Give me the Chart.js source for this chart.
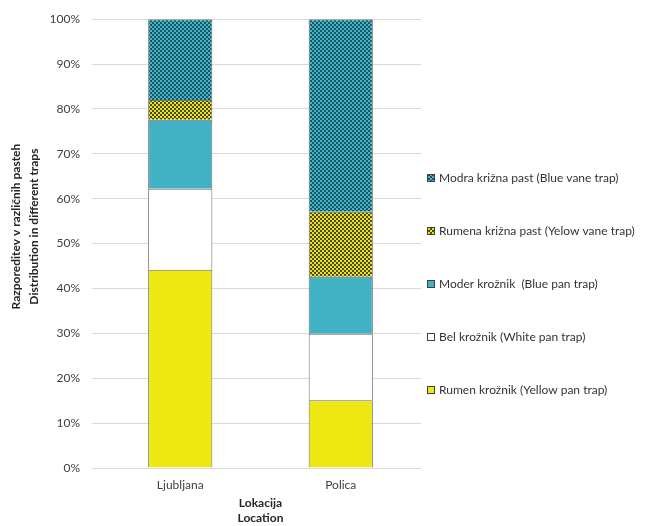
<!DOCTYPE html>
<html>
<head>
<meta charset="utf-8">
<script src="https://cdn.jsdelivr.net/npm/chart.js@4.4.0/dist/chart.umd.min.js"></script>
<style>
  html, body { margin: 0; padding: 0; background: #fff; }
  #wrap { width: 647px; height: 526px; }
</style>
</head>
<body>
<div id="wrap"><canvas id="chart"></canvas></div>
<script>
const locations = ['Ljubljana', 'Polica'];
const yellowPan = [44.2, 15.1];
const whitePan = [18.0, 14.8];
const bluePan = [15.4, 12.7];
const yellowVane = [4.4, 14.5];
const blueVane = [18.0, 42.9];
const yTitle = ['Razporeditev v različnih pasteh', 'Distribution in different traps'];
const xTitle = ['Lokacija', 'Location'];

// small checker fill like the Excel pattern
function checker(dark, light) {
    let c = document.createElement('canvas');
    c.width = 4;
    c.height = 4;
    let g = c.getContext('2d');
    g.fillStyle = dark;
    g.fillRect(0, 0, 4, 4);
    g.fillStyle = light;
    g.fillRect(0, 0, 2, 2);
    g.fillRect(2, 2, 2, 2);
    return g.createPattern(c, 'repeat');
}

// legend on the right (reversed, widely spaced) + y axis title sitting a bit above centre
const trapLegend = {
    id: 'trapLegend',
    afterDraw(chart) {
        let ctx = chart.ctx;
        let area = chart.chartArea;
        let sets = chart.data.datasets;
        ctx.save();
        ctx.font = '12px Lato';
        ctx.textBaseline = 'middle';
        for (let i = sets.length - 1; i >= 0; i--) {
            let row = sets.length - 1 - i;
            let y = 178 + row * 53;
            let x = area.right + 6;
            ctx.fillStyle = sets[i].backgroundColor;
            ctx.fillRect(x, y - 4, 8, 8);
            ctx.strokeStyle = '#404040';
            ctx.lineWidth = 1;
            ctx.strokeRect(x + 0.5, y - 3.5, 7, 7);
            ctx.fillStyle = '#333333';
            ctx.fillText(sets[i].label, x + 12, y);
        }

        let midY = (area.top + area.bottom) / 2 - 17;
        ctx.font = 'bold 12px Lato';
        ctx.fillStyle = '#262626';
        ctx.textAlign = 'center';
        ctx.translate(16, midY);
        ctx.rotate(-Math.PI / 2);
        ctx.fillText(yTitle[0], 0, 0);
        ctx.fillText(yTitle[1], 0, 18);
        ctx.restore();
    }
};

let bar_param = {
    type: 'bar',
    data: {
        labels: locations,
        datasets: [{
            label: 'Rumen krožnik (Yellow pan trap)',
            data: yellowPan,
            backgroundColor: '#ede812',
        }, {
            label: 'Bel krožnik (White pan trap)',
            data: whitePan,
            backgroundColor: '#ffffff',
        }, {
            label: 'Moder krožnik  (Blue pan trap)',
            data: bluePan,
            backgroundColor: '#41b1c4',
        }, {
            label: 'Rumena križna past (Yelow vane trap)',
            data: yellowVane,
            backgroundColor: checker('#4a4a2a', '#ece314'),
        }, {
            label: 'Modra križna past (Blue vane trap)',
            data: blueVane,
            backgroundColor: checker('#1d5560', '#3fb6ca'),
        }]
    },
    options: {
        responsive: true,
        maintainAspectRatio: false,
        animation: false,
        datasets: {
            bar: {
                borderColor: '#6f6f6f',
                borderWidth: 1,
                barPercentage: 0.4,
                categoryPercentage: 1,
            }
        },
        layout: {
            padding: { left: 0, right: 226, top: 0, bottom: 0 }
        },
        plugins: {
            legend: { display: false },
            tooltip: { enabled: false },
        },
        scales: {
            x: {
                stacked: true,
                grid: { display: false },
                border: { display: false },
                ticks: { color: '#404040', font: { family: 'Lato', size: 12, lineHeight: 1 }, padding: 3 },
                title: {
                    display: true,
                    text: xTitle,
                    color: '#262626',
                    font: { family: 'Lato', size: 12, weight: 'bold', lineHeight: 1.25 },
                    padding: { top: 2, bottom: 0 },
                }
            },
            y: {
                stacked: true,
                min: 0,
                max: 100,
                afterFit: scale => { scale.width = 100; },
                grid: { color: '#d9d9d9' },
                border: { display: false },
                ticks: {
                    stepSize: 10,
                    padding: 12,
                    color: '#404040',
                    font: { family: 'Lato', size: 12 },
                    callback: v => v + '%',
                },
            }
        }
    },
    plugins: [trapLegend]
};

let chart = new Chart(document.getElementById('chart'), bar_param);
</script>
</body>
</html>
